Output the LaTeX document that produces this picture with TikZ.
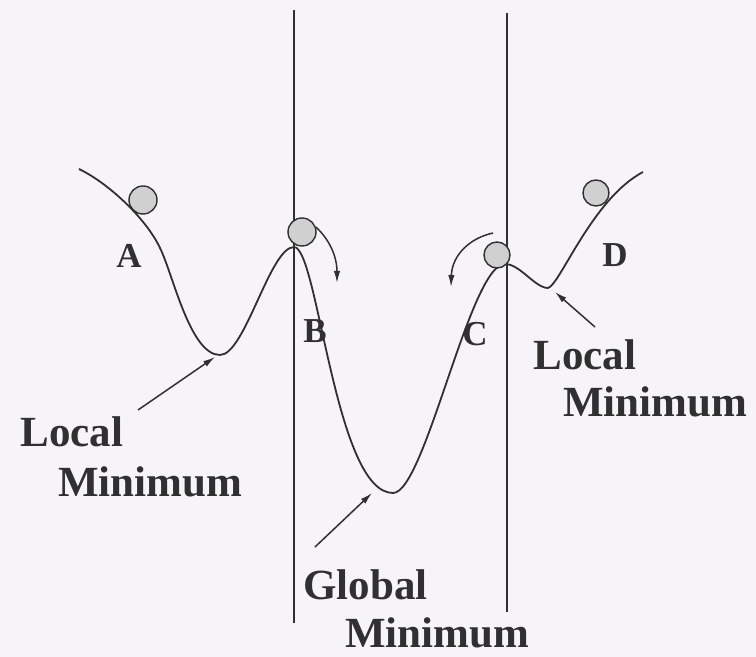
\documentclass[tikz,border=0pt]{standalone}
\usepackage{fontspec}
\setmainfont{Liberation Serif}
\usetikzlibrary{arrows.meta}
\definecolor{paper}{HTML}{F6F4F8}
\definecolor{ink}{HTML}{303030}
\definecolor{ballgray}{HTML}{D0D0D0}
\begin{document}
\begin{tikzpicture}[x=0.5pt, y=-0.5pt,
  ball/.style={circle, draw=ink, fill=ballgray, line width=0.7pt,
               inner sep=0pt, minimum size=#1},
  ball/.default=14pt,
  lbl/.style={font=\bfseries\fontsize{21.5}{24}\selectfont, text=ink,
              inner sep=0pt, anchor=base west},
  letter/.style={font=\bfseries\fontsize{17.5}{20}\selectfont, text=ink,
                 inner sep=0pt, anchor=base west},
  arr/.style={-{Latex[length=6pt,width=3.2pt]}, line width=0.75pt, draw=ink},
  wall/.style={line width=0.9pt, draw=ink}
]
  \fill[paper] (0,0) rectangle (756,657);
  \useasboundingbox (0,0) rectangle (756,657);

  % Trennlinien
  \draw[wall] (294,10) -- (294,623);
  \draw[wall] (507,13) -- (507,612);

  % Energielandschaft
  \coordinate (start) at (79,169);
  \coordinate (slopeA) at (160,248);
  \coordinate (minA) at (220,355);
  \coordinate (peakB) at (294,247);
  \coordinate (minG) at (393,493);
  \coordinate (peakC) at (505,264);
  \coordinate (minD) at (548,288);
  \coordinate (stop) at (643,172);
  \draw[wall] (start) .. controls (110,184) and (147,220) .. (slopeA)
    .. controls (173,274) and (190,355) .. (minA)
    .. controls (245,355) and (270,247) .. (peakB)
    .. controls (318,247) and (335,493) .. (minG)
    .. controls (425,493) and (470,264) .. (peakC)
    .. controls (520,264) and (535,288) .. (minD)
    .. controls (560,285) and (592,199) .. (stop);

  % Kugeln
  \node[ball] (ballA) at (143,200) {};
  \node[ball] (ballB) at (302,232) {};
  \node[ball=13pt] (ballC) at (497,255) {};
  \node[ball=13pt] (ballD) at (596,193) {};

  % Rollrichtung
  \coordinate (rollB) at (337,283);
  \coordinate (rollC) at (451,287);
  \draw[arr] (ballB.20) .. controls (328,238) and (337,255) .. (rollB);
  \draw[arr] (493,233) .. controls (470,238) and (452,255) .. (rollC);

  \node[letter] (labA) at (116,268) {A};
  \node[letter] (labB) at (303,343) {B};
  \node[letter] (labC) at (462,346) {C};
  \node[letter] (labD) at (602,267) {D};

  % Minima
  \node[lbl] (locL1) at (20,447) {Local};
  \node[lbl] (locL2) at (58,497) {Minimum};
  \node[lbl] (glob1) at (303,600) {Global};
  \node[lbl] (glob2) at (345,648) {Minimum};
  \node[lbl] (locR1) at (533,370) {Local};
  \node[lbl] (locR2) at (563,417) {Minimum};

  \coordinate (tailL) at (138,410);
  \coordinate (tipL) at (215,357);
  \coordinate (tailG) at (315,547);
  \coordinate (tipG) at (372,493);
  \coordinate (tailR) at (595,327);
  \coordinate (tipR) at (555,292);
  \draw[arr] (tailL) -- (tipL);
  \draw[arr] (tailG) -- (tipG);
  \draw[arr] (tailR) -- (tipR);
\end{tikzpicture}
\end{document}
